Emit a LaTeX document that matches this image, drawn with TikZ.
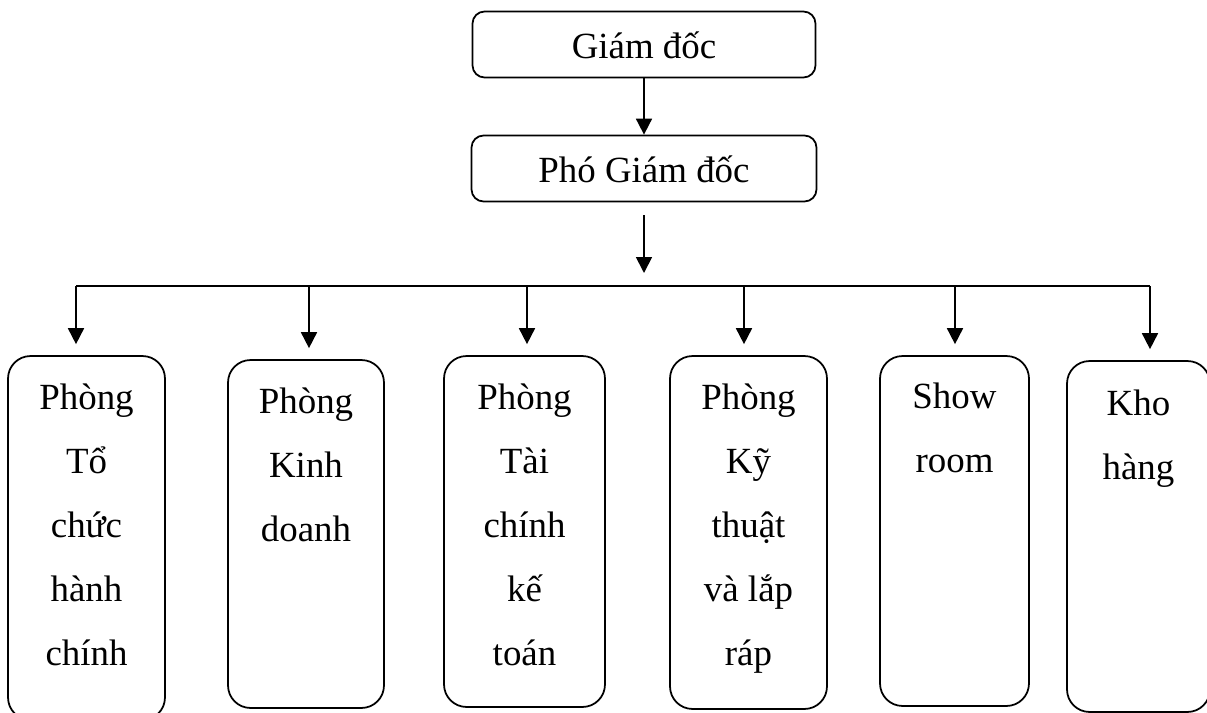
\documentclass[tikz,border=0pt]{standalone}
\usepackage{fontspec}
\setmainfont{Liberation Serif}
\usetikzlibrary{positioning,arrows.meta}

\begin{document}
\begin{tikzpicture}[x=0.02cm, y=-0.02cm, line width=1pt,
    every node/.style={font=\fontsize{21}{36.4}\selectfont},
    head/.style={draw, rounded corners=0.24cm, minimum height=1.32cm, text height=15.5pt, text depth=0pt},
    room/.style={draw, rounded corners=0.45cm, inner sep=0pt},
    roomtext/.style={align=center, inner sep=0pt},
    arr/.style={-{Triangle[length=0.32cm,width=0.32cm]}}]

    \clip (0,0) rectangle (1207,713);

    % ban giám đốc
    \node[head, minimum width=6.86cm] (gd) at (644,44.5) {Giám đốc};
    \node[head, minimum width=6.9cm] (pgd) at (644,168.5) {Phó Giám đốc};
    \draw[arr] (gd) -- (pgd);

    % các phòng ban
    \node[room, minimum width=3.14cm, minimum height=7.28cm] (p1) at (86.5,538) {};
    \node[room, minimum width=3.12cm, minimum height=6.96cm] (p2) at (306,534) {};
    \node[room, minimum width=3.22cm, minimum height=7.02cm] (p3) at (524.5,531.5) {};
    \node[room, minimum width=3.14cm, minimum height=7.06cm] (p4) at (748.5,532.5) {};
    \node[room, minimum width=2.98cm, minimum height=7cm] (p5) at (954.5,531) {};
    \node[room, minimum width=2.86cm, minimum height=7.02cm] (p6) at (1138.5,536.5) {};

    % tên phòng
    \node[roomtext, below=0.56cm of p1.north] (t1) {Phòng\\Tổ\\chức\\hành\\chính};
    \node[roomtext, below=0.56cm of p2.north] (t2) {Phòng\\Kinh\\doanh};
    \node[roomtext, below=0.56cm of p3.north] (t3) {Phòng\\Tài\\chính\\kế\\toán};
    \node[roomtext, below=0.56cm of p4.north] (t4) {Phòng\\Kỹ\\thuật\\và lắp\\ráp};
    \node[roomtext, below=0.54cm of p5.north] (t5) {Show\\room};
    \node[roomtext, below=0.58cm of p6.north] (t6) {Kho\\hàng};

    % đường nối
    \coordinate (bus) at (644,286);
    \coordinate (b1) at (76,286);
    \coordinate (b2) at (309,286);
    \coordinate (b3) at (527,286);
    \coordinate (b4) at (744,286);
    \coordinate (b5) at (955,286);
    \coordinate (b6) at (1150,286);
    \draw[arr] ([yshift=-0.26cm]pgd.south) -- ([yshift=0.26cm]bus);
    \draw (b1) -- (b6);
    \foreach \i in {1,...,6}
        \draw[arr] (b\i) -- ([yshift=0.22cm]p\i.north -| b\i);

\end{tikzpicture}
\end{document}
